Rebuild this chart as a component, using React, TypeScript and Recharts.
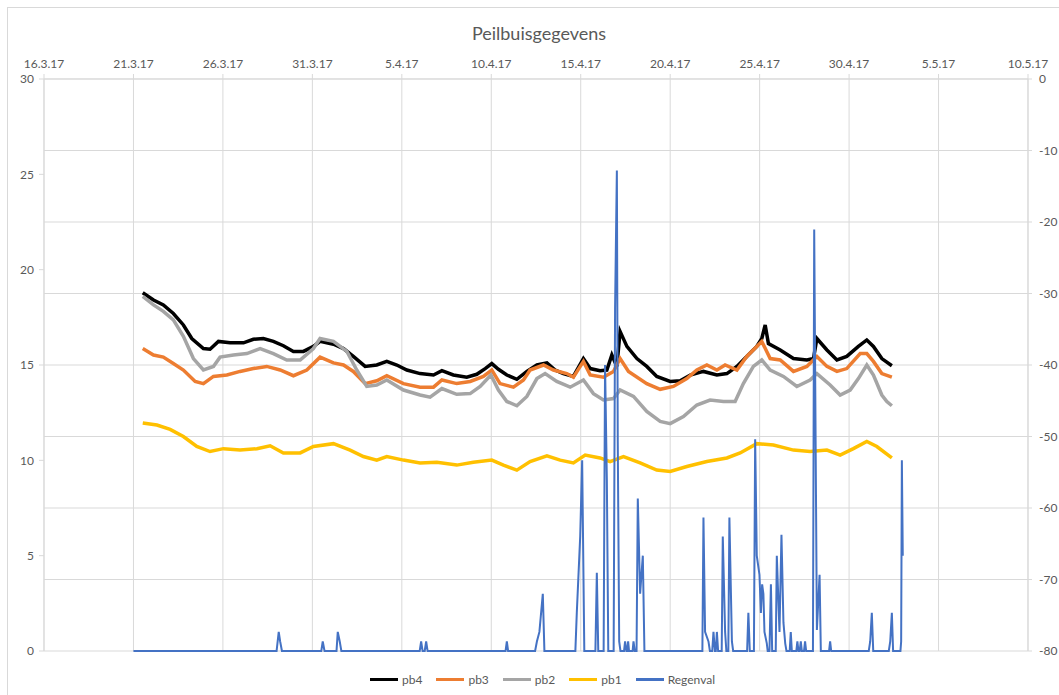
import React from 'react';
import { LineChart, Line, XAxis, YAxis, CartesianGrid } from 'recharts';

// x values are days counted from 16.3.17
const tickDays = [0, 5, 10, 15, 20, 25, 30, 35, 40, 45, 50, 55];
const dateTicks = ['16.3.17', '21.3.17', '26.3.17', '31.3.17', '5.4.17', '10.4.17', '15.4.17', '20.4.17', '25.4.17', '30.4.17', '5.5.17', '10.5.17'];
const leftTicks = [0, 5, 10, 15, 20, 25, 30];
const rightTicks = [-80, -70, -60, -50, -40, -30, -20, -10, 0];

// [day, value] on the right axis
const pb4 = [
  [5.52, -29.9], [6.12, -30.9], [6.67, -31.6], [7.23, -32.8], [7.79, -34.4], [8.26, -36.3], [8.91, -37.7], [9.28, -37.8],
  [9.75, -36.7], [10.4, -36.9], [11.15, -36.9], [11.7, -36.4], [12.26, -36.3], [12.82, -36.7], [13.38, -37.3], [13.94, -38.1],
  [14.5, -38.1], [15.06, -37.4], [15.43, -36.7], [16.18, -37.1], [16.74, -37.7], [17.29, -38.8], [17.95, -40.2], [18.6, -40.0],
  [19.16, -39.5], [19.72, -40.0], [20.28, -40.7], [21.02, -41.2], [21.77, -41.4], [22.24, -40.8], [22.88, -41.4], [23.63, -41.7],
  [24.19, -41.3], [24.66, -40.5], [25.03, -39.8], [25.4, -40.6], [25.87, -41.4], [26.43, -42.0], [26.99, -40.9], [27.55, -40.0],
  [28.11, -39.7], [28.57, -40.7], [29.03, -41.2], [29.59, -41.6], [30.15, -39.1], [30.53, -40.5], [31.08, -40.8], [31.46, -40.7],
  [31.74, -38.6], [32.02, -40.2], [32.2, -35.3], [32.58, -37.4], [33.14, -39.1], [33.69, -40.2], [34.25, -41.6], [35.0, -42.3],
  [35.56, -42.2], [36.12, -41.4], [36.86, -40.9], [37.61, -41.4], [38.17, -41.2], [38.73, -40.2], [39.28, -38.8], [39.84, -37.4],
  [40.12, -36.3], [40.31, -34.4], [40.49, -37.0], [41.15, -37.9], [41.89, -39.1], [42.64, -39.3], [43.01, -39.1], [43.2, -36.3],
  [43.76, -37.9], [44.32, -39.3], [44.87, -38.8], [45.52, -37.4], [45.99, -36.5], [46.36, -37.4], [46.83, -39.1], [47.39, -40.1],
];

const pb3 = [
  [5.52, -37.7], [6.12, -38.6], [6.67, -38.9], [7.23, -39.8], [7.79, -40.7], [8.45, -42.3], [8.91, -42.6], [9.47, -41.6],
  [10.22, -41.4], [10.96, -40.9], [11.7, -40.5], [12.45, -40.2], [13.2, -40.7], [13.94, -41.5], [14.69, -40.7], [15.43, -38.9],
  [16.18, -39.7], [16.74, -40.0], [17.29, -40.9], [17.95, -42.6], [18.6, -42.2], [19.16, -41.5], [20.09, -42.6], [21.02, -43.1],
  [21.77, -43.1], [22.24, -42.1], [23.07, -42.6], [23.82, -42.3], [24.56, -41.6], [25.03, -40.7], [25.49, -42.6], [26.24, -43.1],
  [26.8, -42.1], [27.17, -40.7], [27.92, -40.0], [28.47, -40.7], [29.22, -41.2], [29.59, -41.7], [30.15, -39.5], [30.53, -41.4],
  [31.27, -41.7], [31.83, -40.9], [32.2, -39.1], [32.67, -40.9], [33.69, -42.6], [34.44, -43.4], [35.18, -43.0], [35.93, -41.9],
  [36.49, -40.7], [37.05, -40.0], [37.61, -40.7], [38.07, -40.0], [38.73, -40.7], [39.28, -38.8], [39.84, -37.4], [40.12, -36.7],
  [40.59, -39.1], [41.15, -39.3], [41.89, -40.9], [42.64, -40.2], [43.2, -38.8], [43.76, -40.2], [44.32, -40.9], [44.87, -40.5],
  [45.62, -38.4], [45.99, -38.4], [46.36, -39.5], [46.83, -41.2], [47.39, -41.7],
];

const pb2 = [
  [5.52, -30.4], [6.12, -31.6], [6.67, -32.5], [7.23, -33.7], [7.79, -36.0], [8.35, -39.1], [8.91, -40.7], [9.47, -40.2],
  [9.84, -38.9], [10.59, -38.6], [11.34, -38.4], [12.08, -37.7], [12.82, -38.4], [13.57, -39.3], [14.32, -39.3], [15.06, -37.7],
  [15.43, -36.3], [16.18, -36.7], [16.93, -38.1], [17.48, -40.7], [18.04, -43.0], [18.6, -42.8], [19.16, -42.1], [20.09, -43.5],
  [21.02, -44.2], [21.58, -44.5], [22.24, -43.3], [23.07, -44.1], [23.82, -44.0], [24.38, -43.0], [24.98, -41.4], [25.4, -43.5],
  [25.87, -45.1], [26.43, -45.7], [26.99, -44.4], [27.55, -41.9], [28.01, -41.2], [28.66, -42.3], [29.41, -43.1], [30.15, -42.1],
  [30.71, -44.0], [31.27, -44.9], [31.83, -44.7], [32.2, -43.5], [32.95, -44.4], [33.69, -46.5], [34.44, -47.9], [35.0, -48.2],
  [35.74, -47.2], [36.49, -45.6], [37.23, -44.9], [37.98, -45.1], [38.63, -45.1], [39.09, -42.6], [39.65, -40.2], [40.12, -39.3],
  [40.59, -40.7], [41.33, -41.6], [42.08, -43.0], [42.82, -42.1], [43.2, -41.2], [43.94, -42.8], [44.5, -44.2], [45.06, -43.5],
  [45.52, -41.9], [45.99, -40.0], [46.36, -41.4], [46.83, -44.2], [47.11, -45.1], [47.39, -45.7],
];

const pb1 = [
  [5.52, -48.1], [6.31, -48.4], [7.05, -49.0], [7.79, -50.0], [8.54, -51.4], [9.28, -52.1], [10.03, -51.7], [10.96, -51.9],
  [11.9, -51.7], [12.64, -51.3], [13.38, -52.3], [14.32, -52.3], [15.06, -51.4], [16.18, -51.0], [17.11, -51.9], [17.85, -52.8],
  [18.6, -53.3], [19.16, -52.8], [20.09, -53.3], [21.02, -53.7], [21.96, -53.6], [23.07, -54.0], [24.0, -53.6], [25.03, -53.3],
  [25.68, -54.0], [26.43, -54.7], [27.17, -53.5], [28.11, -52.7], [28.85, -53.3], [29.59, -53.7], [30.25, -52.6], [31.08, -53.0],
  [31.64, -53.5], [32.39, -52.8], [33.32, -53.7], [34.25, -54.7], [35.0, -54.9], [35.93, -54.2], [37.05, -53.5], [38.17, -53.0],
  [38.91, -52.3], [39.84, -51.0], [40.77, -51.2], [41.89, -51.9], [42.82, -52.1], [43.76, -51.9], [44.5, -52.6], [45.24, -51.7],
  [45.99, -50.7], [46.55, -51.4], [47.39, -53.0],
];

// [day, value] on the left axis
const regenval = [
  [5.0, 0],
  [13.0, 0], [13.12, 1.0], [13.2, 0.5], [13.3, 0],
  [15.5, 0], [15.58, 0.5], [15.68, 0],
  [16.35, 0], [16.42, 1.0], [16.53, 0.5], [16.62, 0],
  [21.0, 0], [21.08, 0.5], [21.16, 0],
  [21.28, 0], [21.36, 0.5], [21.44, 0],
  [25.8, 0], [25.87, 0.5], [25.94, 0],
  [27.45, 0], [27.55, 0.5], [27.69, 1.0], [27.88, 3.0], [27.97, 0],
  [29.7, 0], [29.78, 2.0], [29.97, 6.0], [30.08, 10.0], [30.2, 0],
  [30.82, 0], [30.9, 4.1], [30.98, 0],
  [31.28, 0], [31.36, 15.0], [31.46, 9.0], [31.54, 0],
  [31.84, 0], [31.92, 18.0], [32.02, 25.2], [32.07, 11.0], [32.15, 0.5], [32.22, 0],
  [32.42, 0], [32.48, 0.5], [32.55, 0], [32.6, 0], [32.65, 0.5], [32.7, 0],
  [32.9, 0], [32.95, 0.5], [33.02, 0],
  [33.12, 0], [33.19, 8.0], [33.32, 3.0], [33.47, 5.0], [33.56, 0],
  [36.8, 0], [36.86, 7.0], [36.95, 1.0], [37.14, 0.5], [37.22, 0],
  [37.35, 0], [37.42, 1.0], [37.5, 0], [37.55, 0], [37.61, 1.0], [37.68, 0],
  [37.88, 0], [37.94, 6.0], [38.07, 1.0], [38.14, 0],
  [38.25, 0], [38.31, 7.0], [38.45, 0.5], [38.52, 0],
  [39.3, 0], [39.37, 2.0], [39.45, 0],
  [39.68, 0], [39.75, 11.1], [39.84, 5.0], [39.99, 4.0], [40.07, 2.0], [40.14, 3.5], [40.21, 3.0], [40.27, 1.0], [40.4, 0.4], [40.45, 0],
  [40.55, 0], [40.63, 3.5], [40.7, 0],
  [40.9, 0], [40.96, 5.0], [41.11, 1.0], [41.22, 6.1], [41.33, 1.5], [41.43, 0.4], [41.5, 0],
  [41.68, 0], [41.74, 1.0], [41.8, 0],
  [42.05, 0], [42.11, 0.5], [42.17, 0], [42.24, 0], [42.3, 0.5], [42.36, 0], [42.48, 0], [42.54, 0.5], [42.6, 0],
  [42.98, 0], [43.05, 22.1], [43.2, 1.1], [43.35, 4.0], [43.42, 0],
  [43.88, 0], [43.94, 0.5], [44.0, 0],
  [46.1, 0], [46.18, 0.5], [46.27, 2.0], [46.35, 0],
  [47.22, 0], [47.3, 0.5], [47.39, 2.0], [47.46, 0],
  [47.87, 0], [47.91, 0.5], [47.95, 10.0], [48.0, 5.0],
];

const series = [
  { key: 'pb4', color: '#000000', points: pb4, axis: 'right', width: 3.5 },
  { key: 'pb3', color: '#ED7D31', points: pb3, axis: 'right', width: 3.5 },
  { key: 'pb2', color: '#A5A5A5', points: pb2, axis: 'right', width: 3.5 },
  { key: 'pb1', color: '#FFC000', points: pb1, axis: 'right', width: 3.5 },
  { key: 'Regenval', color: '#4472C4', points: regenval, axis: 'left', width: 2 },
];

function buildTable() {
  const rows = new Map<number, any>();
  series.forEach(s => {
    s.points.forEach(([d, v]) => {
      const row = rows.get(d) ?? { day: d };
      row[s.key] = v;
      rows.set(d, row);
    });
  });
  return Array.from(rows.values()).sort((a, b) => a.day - b.day);
}

const data = buildTable();

const FONT = 'Lato, "Liberation Sans", sans-serif';
const TEXT = '#595959';
const GRID = '#d9d9d9';
const tickStyle = { fill: TEXT, fontSize: 12, fontFamily: FONT };

export default function App() {
  return (
    <>
      <style>{'html, body { margin: 0; padding: 0; overflow: hidden; background: #fff; }'}</style>
      <div style={{
        position: 'absolute', left: 7, top: 7, width: 1052, height: 688,
        borderTop: `1px solid ${GRID}`, borderLeft: `1px solid ${GRID}`, boxSizing: 'border-box'
      }}>
        <div style={{
          position: 'absolute', left: 0, width: 1062, top: 15, textAlign: 'center',
          fontFamily: FONT, fontSize: 18, color: TEXT, lineHeight: '20px'
        }}>
          Peilbuisgegevens
        </div>
        <LineChart
          width={1051}
          height={687}
          data={data}
          margin={{ top: 41, right: 6, left: 6, bottom: 44 }}
          style={{ overflow: 'visible' }}
        >
          <CartesianGrid yAxisId="right" stroke={GRID} strokeWidth={1} />
          <XAxis
            dataKey="day"
            type="number"
            orientation="top"
            domain={[0, 55]}
            ticks={tickDays}
            interval={0}
            height={30}
            tickSize={5}
            tickMargin={6}
            tick={tickStyle}
            stroke={GRID}
            tickFormatter={(v: number) => dateTicks[tickDays.indexOf(v)]}
          />
          <YAxis
            yAxisId="left"
            domain={[0, 30]}
            ticks={leftTicks}
            interval={0}
            width={30}
            tickSize={5}
            tickMargin={5}
            tick={tickStyle}
            stroke={GRID}
          />
          <YAxis
            yAxisId="right"
            orientation="right"
            domain={[-80, 0]}
            ticks={rightTicks}
            interval={0}
            width={25}
            tickSize={4}
            tickMargin={7}
            tick={tickStyle}
            stroke={GRID}
          />
          {series.map(s => (
            <Line
              key={s.key}
              yAxisId={s.axis}
              dataKey={s.key}
              type="linear"
              stroke={s.color}
              strokeWidth={s.width}
              dot={false}
              activeDot={false}
              connectNulls
              isAnimationActive={false}
            />
          ))}
        </LineChart>
        <div style={{
          position: 'absolute', left: 362, top: 664, display: 'flex', alignItems: 'center',
          fontFamily: FONT, fontSize: 12, color: TEXT
        }}>
          {series.map(s => (
            <div key={s.key} style={{ display: 'flex', alignItems: 'center', marginRight: 14 }}>
              <div style={{ width: 28, height: 3, background: s.color, marginRight: 4 }} />
              <span>{s.key}</span>
            </div>
          ))}
        </div>
      </div>
    </>
  );
}
